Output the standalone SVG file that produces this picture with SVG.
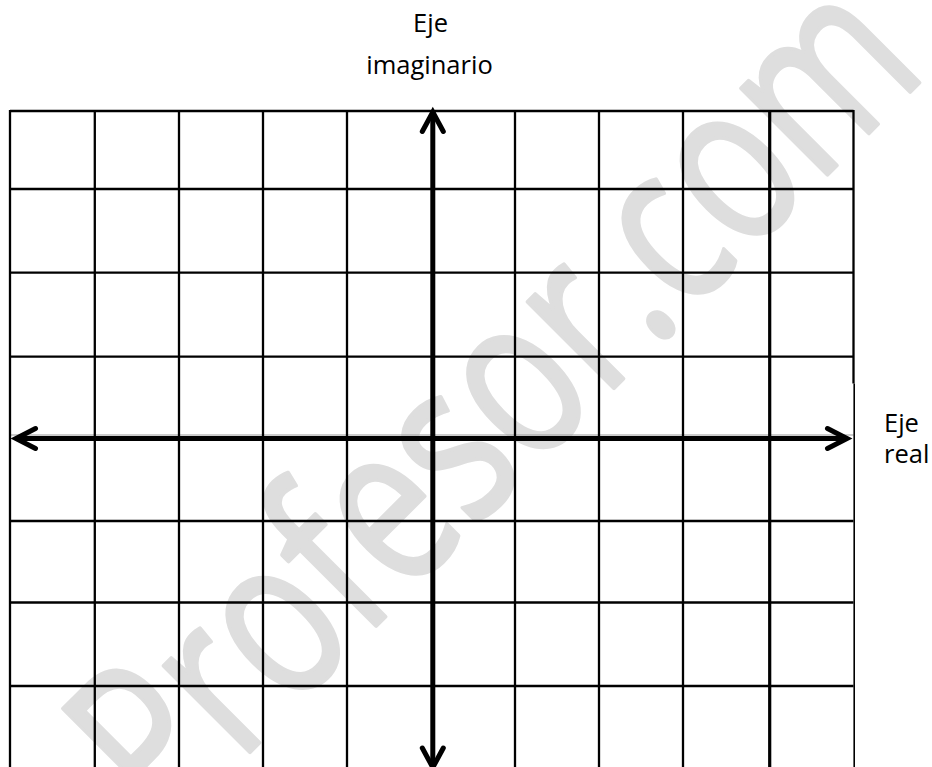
<svg xmlns="http://www.w3.org/2000/svg" width="932" height="767" viewBox="0 0 932 767">
  <style>
    .wm { font-family: "Open Sans", "Liberation Sans", sans-serif; font-size: 228px; fill: #dedede; stroke: #dedede; stroke-width: 4; stroke-linejoin: round; }
    .grid { stroke: #000; stroke-width: 2.3; fill: none; }
    .axis { stroke: #000; stroke-width: 5; fill: none; }
    .head { stroke: #000; stroke-width: 5; fill: none; stroke-linecap: round; stroke-linejoin: miter; }
    .lbl { font-family: "Open Sans", "Liberation Sans", sans-serif; font-size: 25.5px; fill: #000; }
  </style>
  <rect width="932" height="767" fill="#fff"/>

  <g id="watermark">
    <text class="wm" x="166" y="836" transform="rotate(-45 166 836)" textLength="1080" lengthAdjust="spacingAndGlyphs">Profesor.com</text>
  </g>

  <g id="grid" class="grid">
    <line x1="10" y1="111" x2="853.5" y2="111"/>
    <line x1="10" y1="189" x2="853.5" y2="189"/>
    <line x1="10" y1="272.7" x2="853.5" y2="272.7"/>
    <line x1="10" y1="356.7" x2="853.5" y2="356.7"/>
    <line x1="10" y1="435" x2="853.5" y2="435" style="stroke:#999;stroke-width:1.2"/>
    <line x1="10" y1="521" x2="853.5" y2="521"/>
    <line x1="10" y1="602.5" x2="853.5" y2="602.5"/>
    <line x1="10" y1="686" x2="853.5" y2="686"/>

    <line x1="10" y1="110" x2="10" y2="767"/>
    <line x1="94.8" y1="110" x2="94.8" y2="767"/>
    <line x1="179" y1="110" x2="179" y2="767"/>
    <line x1="263" y1="110" x2="263" y2="767"/>
    <line x1="347" y1="110" x2="347" y2="767"/>
    <line x1="515" y1="110" x2="515" y2="767"/>
    <line x1="599" y1="110" x2="599" y2="767"/>
    <line x1="683" y1="110" x2="683" y2="767"/>
    <line x1="769.7" y1="110" x2="769.7" y2="767" style="stroke-width:3.2"/>
    <line x1="853.5" y1="110" x2="853.5" y2="383.5"/>
    <line x1="854.2" y1="383.5" x2="854.2" y2="767" style="stroke-width:1.6"/>
  </g>

  <g id="axes">
    <g id="eje-real">
      <line class="axis" x1="16" y1="438.5" x2="847" y2="438.5"/>
      <polyline class="head" points="35.5,428.5 16,438.5 35.5,448.5"/>
      <polyline class="head" points="827.5,428.5 847,438.5 827.5,448.5"/>
    </g>
    <g id="eje-imaginario">
      <line class="axis" x1="432.8" y1="112" x2="432.8" y2="767.5"/>
      <polyline class="head" points="422.3,131.5 432.8,112 443.3,131.5"/>
      <polyline class="head" points="422.3,748 432.8,767.5 443.3,748"/>
    </g>
  </g>

  <g id="label-imaginario">
    <text class="lbl" x="430.5" y="32" text-anchor="middle">Eje</text>
    <text class="lbl" x="429.5" y="74" text-anchor="middle">imaginario</text>
  </g>
  <g id="label-real">
    <text class="lbl" x="884" y="431.7">Eje</text>
    <text class="lbl" x="884" y="463.3">real</text>
  </g>
</svg>
